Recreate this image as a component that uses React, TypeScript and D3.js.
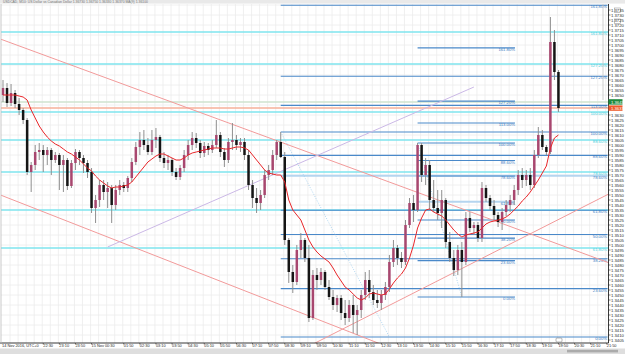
import React from "react";
import * as d3 from "d3";

const W = 625;
const H = 354;

// ---- candle data (10-minute bars, bar 0 = 14 Nov 20:50) ----
const opens = [
  1.3650,1.3657,1.3642,1.3652,1.3641,1.3635,1.3625,1.3573,1.3580,1.3593,
  1.3595,1.3590,1.3595,1.3585,1.3590,1.3580,1.3585,1.3559,1.3582,1.3593,
  1.3587,1.3582,1.3573,1.3537,1.3545,1.3560,1.3553,1.3557,1.3540,1.3555,
  1.3560,1.3557,1.3567,1.3583,1.3598,1.3605,1.3600,1.3593,1.3605,1.3608,
  1.3587,1.3582,1.3585,1.3573,1.3568,1.3577,1.3590,1.3600,1.3607,1.3602,
  1.3592,1.3599,1.3595,1.3600,1.3610,1.3593,1.3585,1.3603,1.3605,1.3600,
  1.3603,1.3590,1.3560,1.3547,1.3542,1.3550,1.3570,1.3575,1.3590,1.3603,
  1.3588,1.3505,1.3473,1.3463,1.3495,1.3505,1.3487,1.3427,1.3470,1.3465,
  1.3473,1.3458,1.3448,1.3440,1.3447,1.3432,1.3427,1.3440,1.3430,1.3435,
  1.3450,1.3465,1.3453,1.3445,1.3442,1.3450,1.3458,1.3483,1.3497,1.3487,
  1.3483,1.3520,1.3542,1.3535,1.3600,1.3570,1.3580,1.3545,1.3537,1.3532,
  1.3545,1.3503,1.3487,1.3475,1.3495,1.3483,1.3527,1.3517,1.3520,1.3507,
  1.3557,1.3547,1.3539,1.3530,1.3523,1.3533,1.3540,1.3545,1.3555,1.3570,
  1.3565,1.3570,1.3560,1.3590,1.3610,1.3598,1.3593,1.3703,1.3673,
];
const highs = [
  1.3665,1.3662,1.3661,1.3655,1.3647,1.3637,1.3627,1.3583,1.3600,1.3602,
  1.3600,1.3598,1.3597,1.3593,1.3592,1.3590,1.3587,1.3585,1.3596,1.3595,
  1.3590,1.3585,1.3577,1.3550,1.3565,1.3565,1.3563,1.3560,1.3560,1.3565,
  1.3563,1.3569,1.3587,1.3603,1.3613,1.3615,1.3607,1.3615,1.3617,1.3610,
  1.3593,1.3590,1.3587,1.3577,1.3580,1.3595,1.3605,1.3613,1.3612,1.3605,
  1.3603,1.3602,1.3605,1.3625,1.3613,1.3597,1.3607,1.3622,1.3610,1.3607,
  1.3607,1.3595,1.3565,1.3557,1.3555,1.3575,1.3580,1.3595,1.3605,1.3613,
  1.3593,1.3507,1.3480,1.3500,1.3512,1.3507,1.3500,1.3475,1.3477,1.3477,
  1.3475,1.3465,1.3455,1.3450,1.3450,1.3445,1.3445,1.3450,1.3440,1.3455,
  1.3473,1.3475,1.3460,1.3455,1.3455,1.3463,1.3490,1.3505,1.3500,1.3493,
  1.3525,1.3547,1.3550,1.3602,1.3602,1.3587,1.3585,1.3565,1.3555,1.3555,
  1.3547,1.3513,1.3495,1.3500,1.3503,1.3533,1.3533,1.3523,1.3523,1.3563,
  1.3560,1.3550,1.3545,1.3533,1.3537,1.3545,1.3550,1.3560,1.3575,1.3577,
  1.3575,1.3577,1.3595,1.3618,1.3615,1.3600,1.3728,1.3715,1.3675,
];
const lows = [
  1.3643,1.3638,1.3639,1.3637,1.3630,1.3621,1.3570,1.3553,1.3575,1.3585,
  1.3573,1.3580,1.3570,1.3582,1.3555,1.3553,1.3555,1.3557,1.3575,1.3580,
  1.3572,1.3567,1.3532,1.3522,1.3538,1.3545,1.3537,1.3522,1.3535,1.3550,
  1.3553,1.3553,1.3563,1.3580,1.3590,1.3595,1.3590,1.3590,1.3597,1.3583,
  1.3577,1.3575,1.3569,1.3565,1.3565,1.3573,1.3585,1.3595,1.3597,1.3587,
  1.3588,1.3590,1.3592,1.3597,1.3588,1.3578,1.3582,1.3595,1.3595,1.3593,
  1.3585,1.3555,1.3537,1.3532,1.3535,1.3547,1.3565,1.3570,1.3585,1.3587,
  1.3500,1.3462,1.3452,1.3460,1.3487,1.3483,1.3423,1.3425,1.3455,1.3460,
  1.3455,1.3445,1.3435,1.3433,1.3425,1.3420,1.3423,1.3412,1.3410,1.3427,
  1.3445,1.3447,1.3440,1.3437,1.3435,1.3445,1.3453,1.3478,1.3480,1.3477,
  1.3480,1.3517,1.3523,1.3533,1.3563,1.3560,1.3535,1.3533,1.3525,1.3517,
  1.3497,1.3483,1.3469,1.3470,1.3448,1.3480,1.3513,1.3510,1.3503,1.3503,
  1.3543,1.3535,1.3525,1.3518,1.3515,1.3529,1.3533,1.3540,1.3550,1.3557,
  1.3559,1.3555,1.3557,1.3587,1.3595,1.3590,1.3591,1.3665,1.3633,
];
const closes = [
  1.3657,1.3642,1.3652,1.3641,1.3635,1.3625,1.3573,1.3580,1.3593,1.3595,
  1.3590,1.3595,1.3585,1.3590,1.3580,1.3585,1.3559,1.3582,1.3593,1.3587,
  1.3582,1.3573,1.3537,1.3545,1.3560,1.3553,1.3557,1.3540,1.3555,1.3560,
  1.3557,1.3567,1.3583,1.3598,1.3605,1.3600,1.3593,1.3605,1.3608,1.3587,
  1.3582,1.3585,1.3573,1.3568,1.3577,1.3590,1.3600,1.3607,1.3602,1.3592,
  1.3599,1.3595,1.3600,1.3610,1.3593,1.3585,1.3603,1.3605,1.3600,1.3603,
  1.3590,1.3560,1.3547,1.3542,1.3550,1.3570,1.3575,1.3590,1.3603,1.3588,
  1.3505,1.3473,1.3463,1.3495,1.3505,1.3487,1.3427,1.3470,1.3465,1.3473,
  1.3458,1.3448,1.3440,1.3447,1.3432,1.3427,1.3440,1.3430,1.3435,1.3450,
  1.3465,1.3453,1.3445,1.3442,1.3450,1.3458,1.3483,1.3497,1.3487,1.3483,
  1.3520,1.3542,1.3535,1.3600,1.3570,1.3580,1.3545,1.3537,1.3532,1.3545,
  1.3503,1.3487,1.3475,1.3495,1.3483,1.3527,1.3517,1.3520,1.3507,1.3557,
  1.3547,1.3539,1.3530,1.3523,1.3533,1.3540,1.3545,1.3555,1.3570,1.3565,
  1.3570,1.3560,1.3590,1.3610,1.3598,1.3593,1.3703,1.3673,1.3637,
];
const maValues = [
  1.3650,1.3650,1.3650,1.3650,1.3649,1.3648,1.3645,1.3635,1.3627,1.3619,
  1.3613,1.3608,1.3604,1.3601,1.3599,1.3596,1.3593,1.3591,1.3588,1.3585,
  1.3581,1.3577,1.3574,1.3569,1.3565,1.3562,1.3559,1.3557,1.3558,1.3558,
  1.3559,1.3560,1.3563,1.3568,1.3573,1.3578,1.3583,1.3586,1.3589,1.3591,
  1.3591,1.3589,1.3587,1.3585,1.3585,1.3587,1.3590,1.3592,1.3593,1.3594,
  1.3595,1.3596,1.3597,1.3597,1.3597,1.3596,1.3596,1.3597,1.3598,1.3598,
  1.3597,1.3595,1.3590,1.3585,1.3580,1.3575,1.3572,1.3571,1.3570,1.3570,
  1.3563,1.3545,1.3535,1.3530,1.3525,1.3515,1.3505,1.3498,1.3493,1.3489,
  1.3486,1.3483,1.3477,1.3470,1.3464,1.3458,1.3455,1.3451,1.3447,1.3445,
  1.3447,1.3451,1.3452,1.3451,1.3450,1.3451,1.3456,1.3462,1.3467,1.3471,
  1.3477,1.3487,1.3500,1.3517,1.3527,1.3535,1.3536,1.3533,1.3531,1.3529,
  1.3525,1.3520,1.3515,1.3511,1.3508,1.3510,1.3511,1.3512,1.3513,1.3517,
  1.3521,1.3523,1.3524,1.3525,1.3526,1.3528,1.3531,1.3535,1.3539,1.3544,
  1.3548,1.3553,1.3559,1.3565,1.3572,1.3579,1.3597,1.3607,1.3610,
];

// ---- time axis ----
const timeTickBars = [10,14,18,22,30,34,38,42,46,50,54,58,62,66,70,74,78,82,86,90,94,98,102,106,110,114,118,122,126,130,134,138,142,146,150];
const timeTickLabels = ["22:30","23:10","23:50","15 Nov 00:30","01:50","02:30","03:10","03:50","04:30","05:10","05:50","06:30","07:10","07:50","08:30","09:10","09:50","10:30","11:10","11:50","12:30","13:10","13:50","14:30","15:10","15:50","16:30","17:10","17:50","18:30","19:10","19:50","20:30","21:10","21:50"];
const firstDateLabel = "14 Nov 2016, UTC+0";

// ---- horizontal levels ----
const cyanLevels = [1.3713, 1.3681, 1.3633, 1.3605, 1.3573, 1.3535, 1.3497];
const cyanLabels = ["161.80%", "127.20%", "100.00%", "88.60%", "78.60%", "", "61.80%"];
const askPrice = 1.3643;
const bidPrice = 1.3637;

const fibRatios = [0, 0.236, 0.382, 0.5, 0.618, 0.786, 0.886, 1, 1.13, 1.272, 1.618];
const fib1 = { startBar: 69, endBar: 96, high: 1.3613, low: 1.3408, lineEnd: 150.2, light: 0.786 };
const fib2 = { startBar: 103, endBar: 114, high: 1.3602, low: 1.3448, lineEnd: 127.2, light: 0.618 };

const trendLines = [
  { b1: 0, p1: 1.3705, b2: 150, p2: 1.3483, color: "#f29a9a", extend: true },
  { b1: 0, p1: 1.3549, b2: 90, p2: 1.3407, color: "#f29a9a", extend: true },
  { b1: 80, p1: 1.3407, b2: 150, p2: 1.3550, color: "#f29a9a", extend: true },
  { b1: 26, p1: 1.3498, b2: 117, p2: 1.3658, color: "#cbb8e6", extend: false },
];

const axisStep = 0.0005;
const axisMin = 1.3405;
const axisCount = 67;

export default function App() {
  const x = d3.scaleLinear().domain([0, 150]).range([3, 606.75]);
  const y = d3.scaleLinear().domain([1.3405, 1.3735]).range([340, 10]);
  const fmt = d3.format(".4f");
  const right = 608.5;
  const top = 4;
  const bottom = 343;
  const font = "'Liberation Sans', Arial, sans-serif";

  const maLine = d3.line<number>().x((_, i) => x(i)).y((d) => y(d))(maValues) || "";

  const tagYs = [y(askPrice), y(bidPrice)];
  const axisPrices = d3
    .range(axisCount)
    .map((k) => axisMin + k * axisStep)
    .filter((p) => tagYs.every((ty) => Math.abs(y(p) - ty) > 4.5));
  const gridV = d3.range(1.75, 151, 2);
  const gridH = d3.range(0, 34).map((k) => 1.341 + k * 0.001);

  const extendLine = (t: any) => {
    const slope = (t.p2 - t.p1) / (t.b2 - t.b1);
    if (!t.extend) return [t.b1, t.p1, t.b2, t.p2];
    const bA = -3, bB = 153;
    return [bA, t.p1 + slope * (bA - t.b1), bB, t.p1 + slope * (bB - t.b1)];
  };

  const fibGroup = (f: any, key: string, labelRight: number) => {
    const range = f.high - f.low;
    return (
      <g key={key}>
        {fibRatios.map((r) => {
          const p = f.low + range * r;
          const yy = y(p);
          const light = Math.abs(r - f.light) < 1e-6;
          return (
            <g key={r}>
              <line x1={x(f.startBar)} x2={x(f.lineEnd)} y1={yy} y2={yy}
                stroke={light ? "#b5d5ef" : "#4a89c9"} strokeWidth={light ? 2 : 1.1} />
              <text x={labelRight} y={yy + 3} textAnchor="end" fontSize={4.2} fill="#3a7cc2" fontFamily={font}>
                {(r * 100).toFixed(2) + "%"}
              </text>
            </g>
          );
        })}
      </g>
    );
  };

  return (
    <svg width={W} height={H} style={{ position: "absolute", left: 0, top: 0, background: "#fff" }}>
      <defs>
        <clipPath id="plot">
          <rect x={1} y={top} width={right - 1} height={bottom - top} />
        </clipPath>
      </defs>
      <rect x={0} y={0} width={W} height={H} fill="#ffffff" />
      {/* title strip */}
      <rect x={0} y={0} width={W} height={3.6} fill="#e9e9e9" />
      <text x={3} y={3.1} fontSize={3.4} fill="#777" fontFamily={font}>
        USDCAD, M10: US Dollar vs Canadian Dollar  1.36730 1.36750 1.36330 1.36370  MA(9) 1.36100
      </text>

      <g clipPath="url(#plot)">
        {/* grid */}
        {gridV.map((b) => (
          <line key={"gv" + b} x1={x(b)} x2={x(b)} y1={top} y2={bottom} stroke="#ececec" strokeWidth={0.8} />
        ))}
        {gridH.map((p) => (
          <line key={"gh" + p} x1={1} x2={right} y1={y(p)} y2={y(p)} stroke="#ececec" strokeWidth={0.8} />
        ))}

        {/* cyan horizontal levels */}
        {cyanLevels.map((p, i) => (
          <line key={"c" + i} x1={1} x2={right} y1={y(p)} y2={y(p)} stroke="#7fe4ee" strokeWidth={1.3} />
        ))}

        {/* ask / bid lines */}
        <line x1={1} x2={right} y1={y(askPrice)} y2={y(askPrice)} stroke="#cfe3cf" strokeWidth={1.4} />
        <line x1={1} x2={right} y1={y(bidPrice)} y2={y(bidPrice)} stroke="#f6b19a" strokeWidth={1.4} />

        {/* fibonacci levels */}
        {fibGroup(fib1, "f1", 607)}
        {fibGroup(fib2, "f2", x(fib2.lineEnd))}

        {/* trend lines */}
        {trendLines.map((t, i) => {
          const [b1, p1, b2, p2] = extendLine(t);
          return <line key={"t" + i} x1={x(b1)} y1={y(p1)} x2={x(b2)} y2={y(p2)} stroke={t.color} strokeWidth={1} />;
        })}

        {/* fib dotted anchor lines */}
        {[fib1, fib2].map((f, i) => (
          <line key={"fd" + i} x1={x(f.startBar)} y1={y(f.high)} x2={x(f.endBar)} y2={y(f.low)}
            stroke="#9ccbee" strokeWidth={0.8} strokeDasharray="1,1.5" />
        ))}

        {/* candles */}
        {closes.map((c, i) => {
          const o = opens[i];
          const cx = x(i);
          const bull = c >= o;
          const yTop = y(Math.max(o, c));
          const h = Math.max(0.8, Math.abs(y(o) - y(c)));
          return (
            <g key={"k" + i}>
              <line x1={cx} x2={cx} y1={y(highs[i])} y2={y(lows[i])} stroke="#8f8f8f" strokeWidth={1} />
              <rect x={cx - 1.25} y={yTop} width={2.5} height={h} fill={bull ? "#a8476f" : "#151515"} />
            </g>
          );
        })}

        {/* moving average */}
        <path d={maLine} fill="none" stroke="#e8262a" strokeWidth={1} />
      </g>

      {/* cyan level labels */}
      {cyanLevels.map((p, i) =>
        cyanLabels[i] ? (
          <text key={"cl" + i} x={607} y={y(p) + 3} textAnchor="end" fontSize={4.2} fill="#49cfdc" fontFamily={font}>
            {cyanLabels[i]}
          </text>
        ) : null
      )}

      {/* price scale depth line */}
      <line x1={603} x2={603} y1={4} y2={y(askPrice) - 2} stroke="#c4c4c4" strokeWidth={0.8} />
      <rect x={614.5} y={8} width={6} height={4.5} fill="none" stroke="#999" strokeWidth={0.6} />
      <rect x={614.5} y={19} width={6} height={4.5} fill="none" stroke="#999" strokeWidth={0.6} />

      {/* axes */}
      <line x1={right} x2={right} y1={top} y2={bottom} stroke="#222" strokeWidth={0.9} />
      <line x1={0} x2={right} y1={bottom} y2={bottom} stroke="#222" strokeWidth={0.9} />
      <line x1={1} x2={1} y1={top} y2={bottom} stroke="#bbb" strokeWidth={0.8} />

      {axisPrices.map((p) => (
        <g key={"ap" + p}>
          <line x1={right} x2={right + 2} y1={y(p)} y2={y(p)} stroke="#222" strokeWidth={0.6} />
          <text x={611} y={y(p) + 1.5} fontSize={4.2} fill="#2a2a2a" fontFamily={font}>
            {fmt(p)}
          </text>
        </g>
      ))}

      {/* price tags */}
      <rect x={608.5} y={y(askPrice) - 2.8} width={14} height={5.4} fill="#1e8a3c" />
      <text x={611} y={y(askPrice) + 1.5} fontSize={4.2} fill="#fff" fontFamily={font}>{fmt(askPrice)}</text>
      <rect x={608.5} y={y(bidPrice) - 2.6} width={14} height={5.4} fill="#ee5a2a" />
      <text x={611} y={y(bidPrice) + 1.6} fontSize={4.2} fill="#fff" fontFamily={font}>{fmt(bidPrice)}</text>

      {/* time axis */}
      <text x={2} y={347} fontSize={3.9} fill="#2a2a2a" fontFamily={font}>{firstDateLabel}</text>
      {timeTickBars.map((b, i) => (
        <g key={"tt" + b}>
          <line x1={x(b)} x2={x(b)} y1={bottom} y2={bottom + 1.5} stroke="#222" strokeWidth={0.6} />
          <text x={x(b)} y={347} fontSize={3.9} fill="#2a2a2a" fontFamily={font}>{timeTickLabels[i]}</text>
        </g>
      ))}
      <rect x={556} y={338} width={6} height={4} rx={1} fill="#fff" stroke="#888" strokeWidth={0.6} />

      {/* scrollbar strip */}
      <rect x={0} y={348.5} width={W} height={5.5} fill="#dedede" />
      <rect x={567} y={349.8} width={51} height={2.6} fill="#ababab" />
    </svg>
  );
}
